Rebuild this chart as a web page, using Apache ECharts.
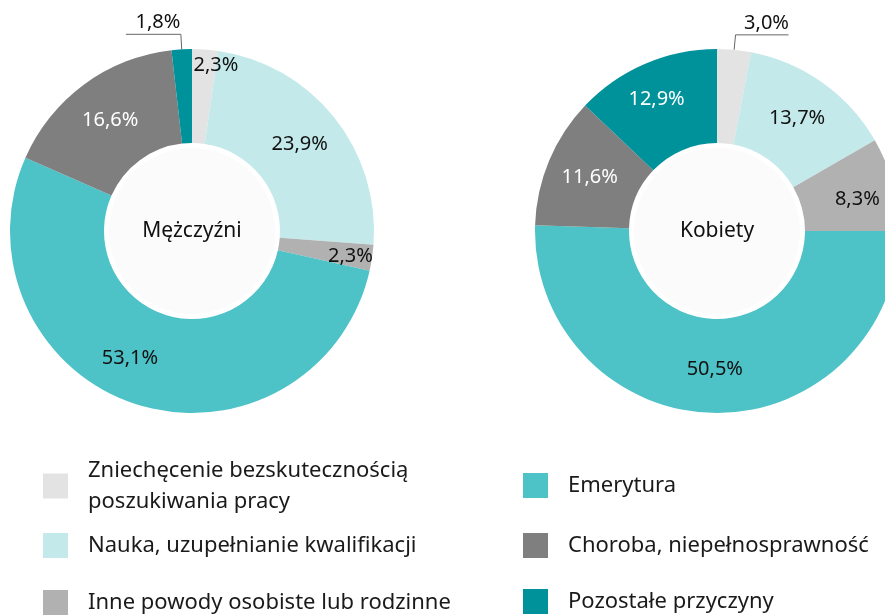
<!DOCTYPE html>
<html lang="pl">
<head>
    <meta charset="UTF-8">
    <title>Powody bierności zawodowej</title>
    <script src="https://cdn.jsdelivr.net/npm/echarts@6/dist/echarts.min.js"></script>
    <style>
        html, body { margin: 0; padding: 0; background: #fff; }
    </style>
</head>
<body>
    <div id="chart" style="width: 885px; height: 616px;"></div>
    <script>
        // kategorie (kolejność zgodnie z ruchem wskazówek zegara od góry)
        var categories = [
            'Zniechęcenie bezskutecznością\nposzukiwania pracy',
            'Nauka, uzupełnianie kwalifikacji',
            'Inne powody osobiste lub rodzinne',
            'Emerytura',
            'Choroba, niepełnosprawność',
            'Pozostałe przyczyny'
        ];
        var menValues = [2.3, 23.9, 2.3, 53.1, 16.6, 1.8];
        var womenValues = [3.0, 13.7, 8.3, 50.5, 11.6, 12.9];
        var groupNames = ['Mężczyźni', 'Kobiety'];

        var colors = ['#e3e3e3', '#c3e9ea', '#b1b1b1', '#4dc2c7', '#7f7f7f', '#00929a'];
        var labelColors = ['#111', '#111', '#111', '#111', '#fff', '#fff'];
        var font = 'Noto Sans';

        // korekty położenia etykiet
        var menTweaks = {
            0: { dx: 14, dy: -28 },
            2: { dx: 22, dy: 5 },
            3: { dx: -19, dy: -4 },
            5: { outside: true, len: -55, textDx: -23 }
        };
        var womenTweaks = {
            0: { outside: true, len: 53, textDx: 31 },
            2: { dx: 7, dy: 4 },
            5: { dx: -6, dy: -5 }
        };

        function fmt(v) {
            return v.toFixed(1).replace('.', ',') + '%';
        }

        function buildData(values, tweaks) {
            return values.map(function (v, i) {
                var t = tweaks[i] || {};
                var item = {
                    name: categories[i],
                    value: v,
                    itemStyle: { color: colors[i] },
                    label: { color: t.outside ? '#111' : labelColors[i] }
                };
                if (t.outside) {
                    item.label.position = 'outside';
                    item.labelLine = {
                        show: true,
                        length: 15,
                        length2: 10,
                        lineStyle: { color: '#666', width: 1 }
                    };
                }
                return item;
            });
        }

        function layoutFor(tweaks) {
            return function (params) {
                var t = tweaks[params.dataIndex];
                if (!t) return {};
                if (t.outside) {
                    var p = params.labelLinePoints;
                    if (!p) return {};
                    var p1 = p[1];
                    var end = [p1[0] + t.len, p1[1]];
                    return {
                        x: p1[0] + t.textDx,
                        y: p1[1] - 12,
                        align: 'center',
                        verticalAlign: 'middle',
                        labelLinePoints: [p[0], p1, end]
                    };
                }
                return { dx: t.dx, dy: t.dy };
            };
        }

        function donut(center, values, tweaks) {
            return {
                type: 'pie',
                center: center,
                radius: [88, 182],
                startAngle: 90,
                clockwise: true,
                avoidLabelOverlap: false,
                silent: true,
                label: {
                    show: true,
                    position: 'inside',
                    fontFamily: font,
                    fontSize: 20,
                    formatter: function (p) { return fmt(p.value); }
                },
                labelLine: { show: false },
                labelLayout: layoutFor(tweaks),
                data: buildData(values, tweaks)
            };
        }

        function hole(center, title) {
            return {
                type: 'pie',
                center: center,
                radius: [0, 83],
                silent: true,
                label: {
                    show: true,
                    position: 'center',
                    formatter: title,
                    fontFamily: font,
                    fontSize: 21,
                    color: '#111'
                },
                labelLine: { show: false },
                data: [{ name: title, value: 1, itemStyle: { color: '#fbfbfb' } }]
            };
        }

        // legenda: jedna pozycja na komponent, dwie kolumny
        var legendLeft = [43, 43, 43, 523, 523, 523];
        var legendTop = [455, 530, 587, 470, 530, 586];
        var legends = categories.map(function (name, i) {
            return {
                data: [name],
                left: legendLeft[i],
                top: legendTop[i],
                orient: 'vertical',
                padding: 0,
                icon: 'rect',
                itemWidth: 25,
                itemHeight: 25,
                selectedMode: false,
                textStyle: {
                    fontFamily: font,
                    fontSize: 22,
                    color: '#1a1a1a',
                    lineHeight: 31,
                    padding: [0, 0, 0, 15]
                }
            };
        });

        var chart = echarts.init(document.getElementById('chart'));
        chart.setOption({
            backgroundColor: '#fff',
            animation: false,
            legend: legends,
            series: [
                donut([192, 231], menValues, menTweaks),
                hole([192, 231], groupNames[0]),
                donut([717, 231], womenValues, womenTweaks),
                hole([717, 231], groupNames[1])
            ]
        });
    </script>
</body>
</html>
